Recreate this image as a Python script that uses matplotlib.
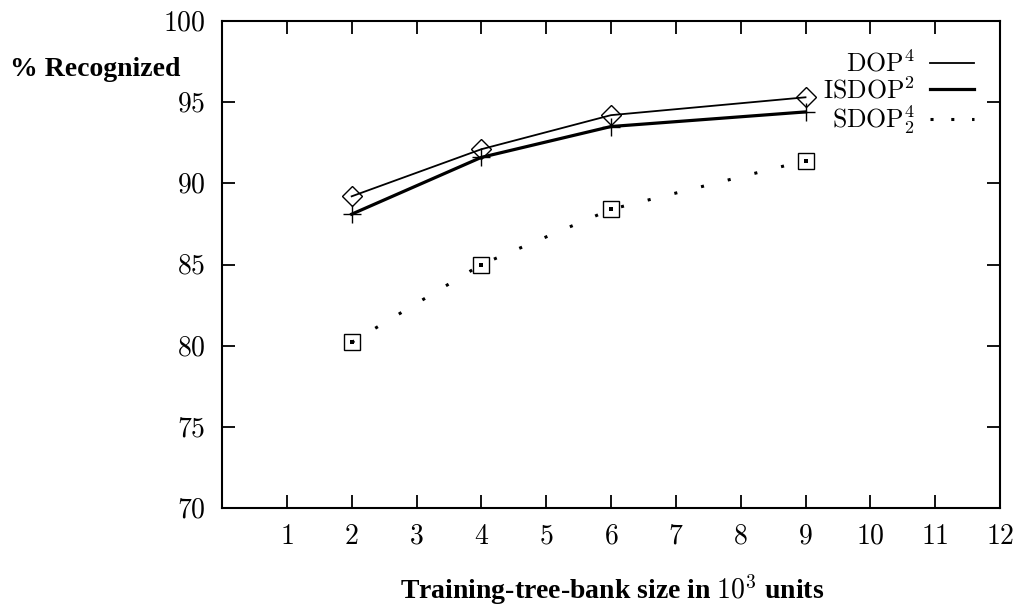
import matplotlib
matplotlib.use("Agg")
import matplotlib.pyplot as plt
from matplotlib.lines import Line2D

# =========================
# Data
# =========================

sizes = [2, 4, 6, 9]
dop4 = [89.2, 92.1, 94.2, 95.3]
isdop2 = [88.1, 91.6, 93.5, 94.4]
sdop24 = [80.2, 85.0, 88.4, 91.4]

labels = [r"$\mathrm{DOP}^4$", r"$\mathrm{ISDOP}^2$", r"$\mathrm{SDOP}^4_2$"]
xticks = list(range(1, 13))
yticks = [70, 75, 80, 85, 90, 95, 100]

# =========================
# Style
# =========================

plt.rcParams['mathtext.fontset'] = 'cm'
plt.rcParams['font.family'] = ['Liberation Serif', 'DejaVu Serif']

fig = plt.figure(figsize=(10.19, 6.11), dpi=100)
ax = fig.add_axes([222 / 1019, 1 - 508 / 611, 778 / 1019, 487 / 611])

# =========================
# Lines
# =========================

ax.plot(sizes, dop4, color='black', lw=1.3)
ax.plot(sizes, isdop2, color='black', lw=2.3)
ax.plot(sizes, sdop24, color='black', lw=2.2, linestyle=(0, (1, 8)),
        dash_capstyle='butt')

# markers
ax.plot(sizes, dop4, linestyle='none', marker='D', markersize=10,
        markerfacecolor='none', markeredgecolor='black', markeredgewidth=1.0)
ax.plot(sizes, isdop2, linestyle='none', marker='+', markersize=13,
        color='black', markeredgewidth=1.0)
ax.plot(sizes, sdop24, linestyle='none', marker='s', markersize=12,
        markerfacecolor='none', markeredgecolor='black', markeredgewidth=1.0)
ax.plot(sizes, sdop24, linestyle='none', marker='s', markersize=2.2,
        color='black', markeredgewidth=0)

# =========================
# Axes
# =========================

ax.set_xlim(0, 12)
ax.set_ylim(70, 100)
ax.set_xticks(xticks)
ax.set_xticklabels([f'${v}$' for v in xticks], fontsize=20)
ax.set_yticks(yticks)
ax.set_yticklabels([f'${v}$' for v in yticks], fontsize=20)
ax.tick_params(axis='both', direction='in', length=9.5, width=1.3,
               top=True, right=True)
ax.tick_params(axis='x', pad=12)
ax.tick_params(axis='y', pad=12)
for s in ax.spines.values():
    s.set_linewidth(1.5)

fig.text(10 / 1019, 1 - 70 / 611, '% Recognized', fontsize=20,
         fontweight='bold', ha='left', va='center')
fig.text(612 / 1019, 1 - 590 / 611,
         r'Training-tree-bank size in $10^3$ units', fontsize=20,
         fontweight='bold', ha='center', va='center')

# legend (no markers, denser dots in the key)
handles = [
    Line2D([], [], color='black', lw=1.3),
    Line2D([], [], color='black', lw=2.3),
    Line2D([], [], color='black', lw=2.2, linestyle=(0, (1, 5.8)),
           dash_capstyle='butt'),
]
ax.legend(handles=handles, labels=labels, loc='upper right', frameon=False,
          markerfirst=False, fontsize=18.5, handlelength=1.7,
          handletextpad=0.6, labelspacing=0.0, borderpad=0,
          borderaxespad=0, bbox_to_anchor=((974 - 222) / 778, 0.94))

fig.savefig('out.png', dpi=100)
